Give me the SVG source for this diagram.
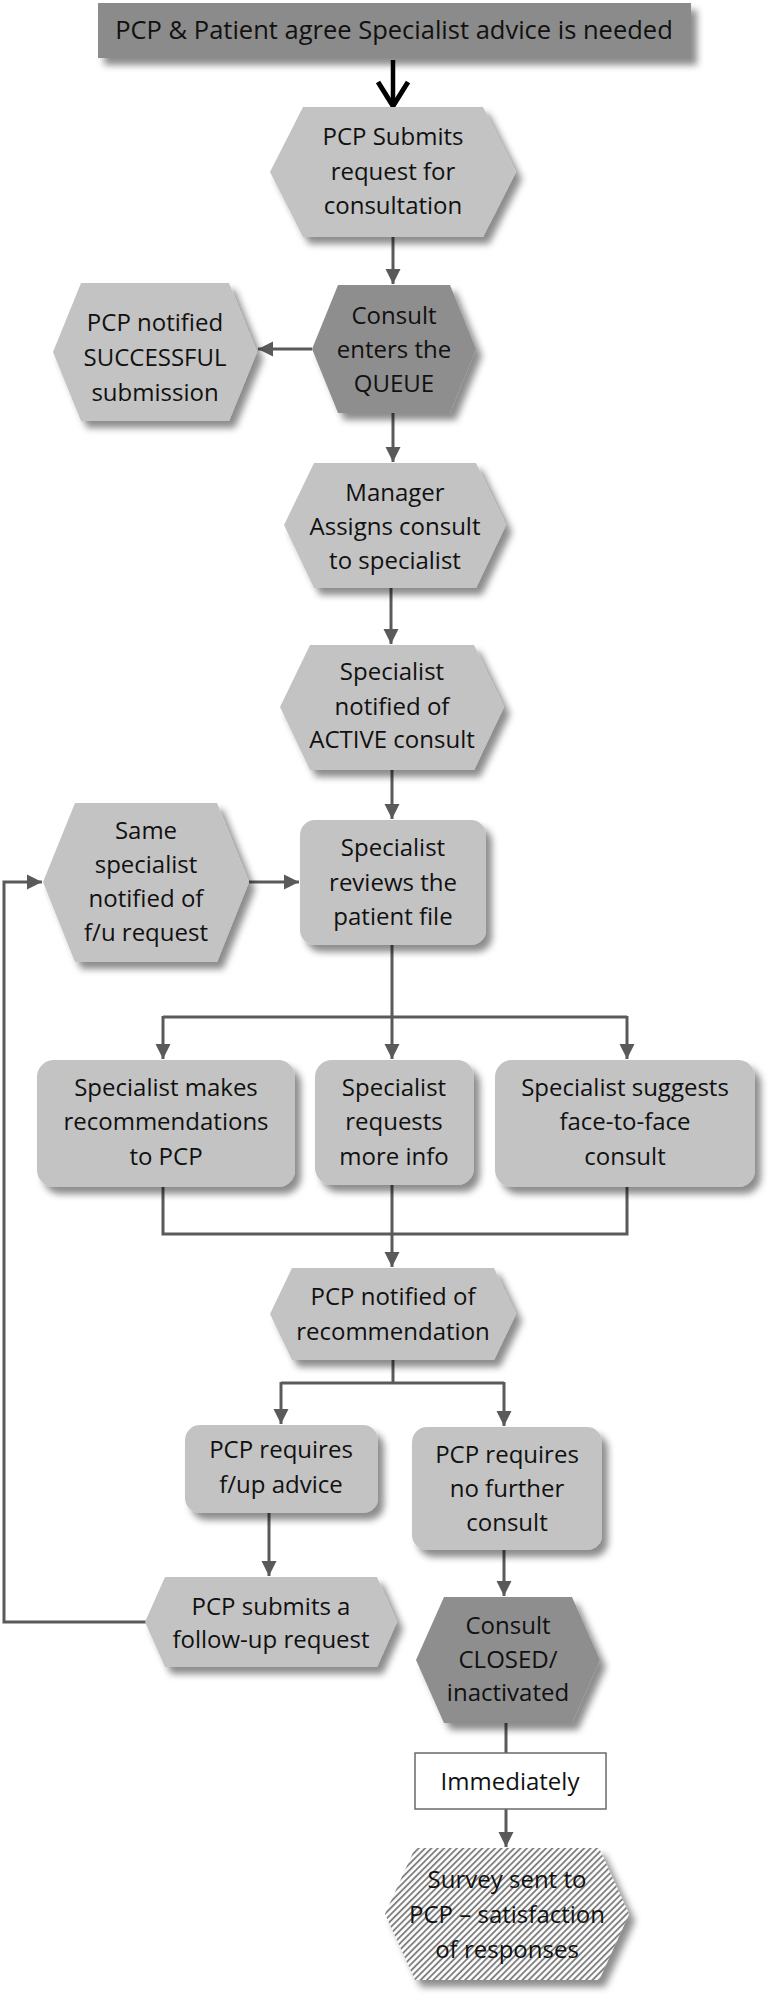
<svg xmlns="http://www.w3.org/2000/svg" width="770" height="2000" viewBox="0 0 770 2000">
<style>
  text { font-family: "Open Sans", "Noto Sans", "DejaVu Sans", sans-serif; font-size: 24px; fill: #111; text-anchor: middle; }
  .light { fill: #c3c3c3; filter: url(#shadow); }
  .dark { fill: #8e8e8e; filter: url(#shadow); }
  .top { fill: #8b8b8b; filter: url(#shadow); }
  .hatch { fill: url(#hatch); filter: url(#shadow); }
  .plain { fill: #ffffff; stroke: #6a6a6a; stroke-width: 1.5; }
  .conn { fill: none; stroke: #5a5a5a; stroke-width: 3; }
  .arr { marker-end: url(#ah); }
</style>
<defs>
  <filter id="shadow" x="-20%" y="-20%" width="150%" height="150%">
    <feDropShadow dx="6" dy="7" stdDeviation="3.5" flood-color="#000" flood-opacity="0.45"/>
  </filter>
  <pattern id="hatch" width="4.5" height="10" patternUnits="userSpaceOnUse" patternTransform="rotate(45)">
    <rect width="4.5" height="10" fill="#ffffff"/>
    <line x1="1" y1="0" x2="1" y2="10" stroke="#7a7a7a" stroke-width="1.8"/>
  </pattern>
  <marker id="ah" viewBox="0 0 10 10" refX="10" refY="5" markerWidth="15" markerHeight="18" markerUnits="userSpaceOnUse" orient="auto">
    <path d="M0,0 L10,5 L0,10 z" fill="#5a5a5a"/>
  </marker>
</defs>

<g id="connectors">
  <line x1="393" y1="60" x2="393" y2="104" stroke="#000" stroke-width="4.5"/>
  <polyline points="378,82 393,106 408,82" fill="none" stroke="#000" stroke-width="5"/>
  <line class="conn arr" x1="393" y1="237" x2="393" y2="284"/>
  <line class="conn arr" x1="312" y1="349" x2="258" y2="349"/>
  <line class="conn arr" x1="393" y1="413" x2="393" y2="462"/>
  <line class="conn arr" x1="391" y1="588" x2="391" y2="644"/>
  <line class="conn arr" x1="392" y1="770" x2="392" y2="819"/>
  <line class="conn arr" x1="249" y1="882" x2="299" y2="882"/>
  <polyline class="conn arr" points="146,1622 4,1622 4,882 42,882"/>
  <line class="conn" x1="392" y1="945" x2="392" y2="1017"/>
  <line class="conn" x1="163" y1="1017" x2="627" y2="1017"/>
  <line class="conn arr" x1="163" y1="1016" x2="163" y2="1059"/>
  <line class="conn arr" x1="392" y1="1016" x2="392" y2="1059"/>
  <line class="conn arr" x1="627" y1="1016" x2="627" y2="1059"/>
  <polyline class="conn" points="163,1187 163,1234 627,1234 627,1187"/>
  <line class="conn" x1="392" y1="1185" x2="392" y2="1234"/>
  <line class="conn arr" x1="392" y1="1233" x2="392" y2="1267"/>
  <line class="conn" x1="393" y1="1360" x2="393" y2="1383"/>
  <line class="conn" x1="281" y1="1383" x2="504" y2="1383"/>
  <line class="conn arr" x1="281" y1="1382" x2="281" y2="1424"/>
  <line class="conn arr" x1="504" y1="1382" x2="504" y2="1426"/>
  <line class="conn arr" x1="269" y1="1513" x2="269" y2="1576"/>
  <line class="conn arr" x1="504" y1="1550" x2="504" y2="1596"/>
  <line class="conn" x1="506" y1="1723" x2="506" y2="1753"/>
  <line class="conn arr" x1="506" y1="1809" x2="506" y2="1847"/>
</g>

<g id="n-start">
  <rect class="top" x="98" y="3" width="593" height="55"/>
  <text x="394" y="39" style="font-size:25.5px">PCP &amp; Patient agree Specialist advice is needed</text>
</g>

<g id="n-submit">
  <polygon class="light" points="303,107 483,107 516,172 483,237 303,237 270,172"/>
  <text x="393" y="145">PCP Submits</text>
  <text x="393" y="180">request for</text>
  <text x="393" y="214">consultation</text>
</g>

<g id="n-queue">
  <polygon class="dark" points="338,285 450,285 476,349 450,413 338,413 312,349"/>
  <text x="394" y="324">Consult</text>
  <text x="394" y="358">enters the</text>
  <text x="394" y="392">QUEUE</text>
</g>

<g id="n-success">
  <polygon class="light" points="81,283 229,283 257,352 229,421 81,421 53,352"/>
  <text x="155" y="331">PCP notified</text>
  <text x="155" y="366">SUCCESSFUL</text>
  <text x="155" y="401">submission</text>
</g>

<g id="n-assign">
  <polygon class="light" points="314,463 476,463 506,525 476,588 314,588 284,525"/>
  <text x="395" y="501">Manager</text>
  <text x="395" y="535">Assigns consult</text>
  <text x="395" y="569">to specialist</text>
</g>

<g id="n-active">
  <polygon class="light" points="310,645 474,645 504,707 474,770 310,770 280,707"/>
  <text x="392" y="680">Specialist</text>
  <text x="392" y="715">notified of</text>
  <text x="392" y="748">ACTIVE consult</text>
</g>

<g id="n-same">
  <polygon class="light" points="75,803 217,803 249,882 217,962 75,962 43,882"/>
  <text x="146" y="839">Same</text>
  <text x="146" y="873">specialist</text>
  <text x="146" y="907">notified of</text>
  <text x="146" y="941">f/u request</text>
</g>

<g id="n-review">
  <rect class="light" x="300" y="820" width="186" height="125" rx="15"/>
  <text x="393" y="856">Specialist</text>
  <text x="393" y="891">reviews the</text>
  <text x="393" y="925">patient file</text>
</g>

<g id="n-recommend">
  <rect class="light" x="37" y="1060" width="258" height="127" rx="17"/>
  <text x="166" y="1096">Specialist makes</text>
  <text x="166" y="1130">recommendations</text>
  <text x="166" y="1165">to PCP</text>
</g>

<g id="n-moreinfo">
  <rect class="light" x="315" y="1060" width="159" height="125" rx="17"/>
  <text x="394" y="1096">Specialist</text>
  <text x="394" y="1130">requests</text>
  <text x="394" y="1165">more info</text>
</g>

<g id="n-face">
  <rect class="light" x="495" y="1060" width="260" height="127" rx="17"/>
  <text x="625" y="1096">Specialist suggests</text>
  <text x="625" y="1130">face-to-face</text>
  <text x="625" y="1165">consult</text>
</g>

<g id="n-notified-rec">
  <polygon class="light" points="292,1268 494,1268 516,1314 494,1360 292,1360 270,1314"/>
  <text x="393" y="1305">PCP notified of</text>
  <text x="393" y="1340">recommendation</text>
</g>

<g id="n-fup">
  <rect class="light" x="185" y="1425" width="193" height="88" rx="15"/>
  <text x="281" y="1458">PCP requires</text>
  <text x="281" y="1493">f/up advice</text>
</g>

<g id="n-nofurther">
  <rect class="light" x="412" y="1427" width="190" height="123" rx="15"/>
  <text x="507" y="1463">PCP requires</text>
  <text x="507" y="1497">no further</text>
  <text x="507" y="1531">consult</text>
</g>

<g id="n-followup">
  <polygon class="light" points="165,1577 377,1577 397,1622 377,1667 165,1667 145,1622"/>
  <text x="271" y="1615">PCP submits a</text>
  <text x="271" y="1648">follow-up request</text>
</g>

<g id="n-closed">
  <polygon class="dark" points="444,1597 572,1597 600,1660 572,1723 444,1723 416,1660"/>
  <text x="508" y="1634">Consult</text>
  <text x="508" y="1668">CLOSED/</text>
  <text x="508" y="1701">inactivated</text>
</g>

<g id="n-immediately">
  <rect class="plain" x="415" y="1753" width="191" height="56"/>
  <text x="510" y="1790">Immediately</text>
</g>

<g id="n-survey">
  <polygon class="hatch" points="415,1848 599,1848 629,1914 599,1980 415,1980 385,1914"/>
  <text x="507" y="1888">Survey sent to</text>
  <text x="507" y="1923">PCP – satisfaction</text>
  <text x="507" y="1958">of responses</text>
</g>
</svg>
